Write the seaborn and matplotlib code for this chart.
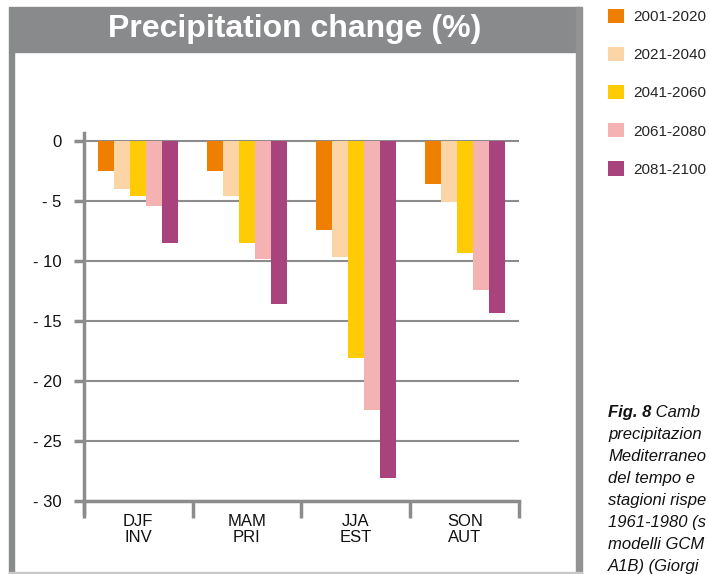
import matplotlib
matplotlib.use("Agg")
import matplotlib.pyplot as plt
from matplotlib.patches import Rectangle
from matplotlib.ticker import FixedLocator, FixedFormatter
import numpy as np
import pandas as pd
import seaborn as sns

# ---------------- data ----------------
seasons = ["DJF\nINV", "MAM\nPRI", "JJA\nEST", "SON\nAUT"]
periods = ["2001-2020", "2021-2040", "2041-2060", "2061-2080", "2081-2100"]
p2001_2020 = [-2.5, -2.5, -7.4, -3.6]
p2021_2040 = [-4.0, -4.6, -9.7, -5.1]
p2041_2060 = [-4.6, -8.5, -18.1, -9.3]
p2061_2080 = [-5.4, -9.8, -22.4, -12.4]
p2081_2100 = [-8.5, -13.6, -28.1, -14.3]
colors = ["#EF7F00", "#FBD5A6", "#FFCB05", "#F4B2B3", "#A9437D"]
ytick_values = [0, -5, -10, -15, -20, -25, -30]
ytick_labels = ["0", "- 5", "- 10", "- 15", "- 20", "- 25", "- 30"]
title = "Precipitation change (%)"
# caption as visible in the (cropped) reference
caption_lines = [
    ("Fig. 8", " Camb"),
    ("", "precipitazion"),
    ("", "Mediterraneo"),
    ("", "del tempo e"),
    ("", "stagioni rispe"),
    ("", "1961-1980 (s"),
    ("", "modelli GCM"),
    ("", "A1B) (Giorgi"),
]

series = [p2001_2020, p2021_2040, p2041_2060, p2061_2080, p2081_2100]
df = pd.DataFrame(
    [(s, p, v) for p, vals in zip(periods, series) for s, v in zip(seasons, vals)],
    columns=["season", "period", "value"],
)

# ---------------- style ----------------
sns.set_style("white")
plt.rcParams["font.family"] = ["Liberation Sans", "DejaVu Sans"]
GRAY = "#8c8c8c"

W, H = 709, 574
fig = plt.figure(figsize=(W / 100, H / 100), dpi=100)

def fx(px):
    return px / W

def fy(py):
    return 1 - py / H

# panel frame
fig.patches.append(Rectangle((fx(9), fy(52)), fx(580) - fx(9), fy(7) - fy(52),
                             transform=fig.transFigure, color="#898a8c", zorder=0))
fig.patches.append(Rectangle((fx(9), fy(573)), fx(14) - fx(9), fy(52) - fy(573),
                             transform=fig.transFigure, color="#898a8c", zorder=0))
fig.patches.append(Rectangle((fx(576), fy(574)), fx(582) - fx(576), fy(7) - fy(574),
                             transform=fig.transFigure, color="#939393", zorder=0))
fig.patches.append(Rectangle((fx(9), fy(574)), fx(582) - fx(9), fy(572) - fy(574),
                             transform=fig.transFigure, color="#c8c8c8", zorder=0))

fig.text(fx(295), fy(29), title, color="white", fontsize=23, fontweight="bold",
         ha="center", va="center")

# axes
ax = fig.add_axes([fx(83.6), fy(513), fx(519.3) - fx(83.6), fy(133) - fy(513)])
ax.set_facecolor("none")
sns.barplot(data=df, x="season", y="value", hue="period", palette=colors,
            width=0.74, saturation=1, ax=ax, linewidth=0)

handles, labels = ax.get_legend_handles_labels()
if ax.get_legend() is not None:
    ax.get_legend().remove()

ax.set_xlim(-0.5, 3.5)
ax.set_ylim(-31, 0.67)
ax.set_xlabel("")
ax.set_ylabel("")

for s in ["top", "right"]:
    ax.spines[s].set_visible(False)
ax.spines["bottom"].set_position(("data", -30))
for s in ["left", "bottom"]:
    ax.spines[s].set_color(GRAY)
    ax.spines[s].set_linewidth(2.5)

ax.yaxis.set_major_locator(FixedLocator(ytick_values))
ax.yaxis.set_major_formatter(FixedFormatter(ytick_labels))
ax.xaxis.set_minor_locator(FixedLocator([-0.5, 0.5, 1.5, 2.5, 3.5]))
ax.tick_params(axis="y", which="major", left=True, length=7, width=2.5, color=GRAY,
               labelsize=12, pad=9, labelcolor="#111111")
ax.tick_params(axis="x", which="major", bottom=True, length=0, labelsize=12, pad=9,
               labelcolor="#111111")
ax.tick_params(axis="x", which="minor", bottom=True, length=12, width=2.5, color=GRAY,
               direction="out")
ax.yaxis.grid(True, color=GRAY, linewidth=1.5)
ax.xaxis.grid(False)
ax.set_axisbelow(True)
for lab in ax.get_xticklabels():
    lab.set_linespacing(1.1)

# legend
fig.legend(handles, labels, loc="upper left", bbox_to_anchor=(fx(603), fy(4)),
           frameon=False, fontsize=11, handlelength=1.05, handleheight=1.05,
           handletextpad=0.65, labelspacing=1.5, borderaxespad=0, borderpad=0.3)

# caption
for i, (bold, rest) in enumerate(caption_lines):
    y = fy(417 + i * 22)
    if bold:
        t1 = fig.text(fx(608), y, bold, fontsize=12, style="italic", fontweight="bold",
                      va="baseline", color="#111111")
        fig.canvas.draw()
        bb = t1.get_window_extent()
        fig.text(bb.x1 / W, y, rest, fontsize=12, style="italic",
                 va="baseline", color="#111111")
    else:
        fig.text(fx(608), y, rest, fontsize=12, style="italic",
                 va="baseline", color="#111111")

fig.savefig("out.png", dpi=100)
